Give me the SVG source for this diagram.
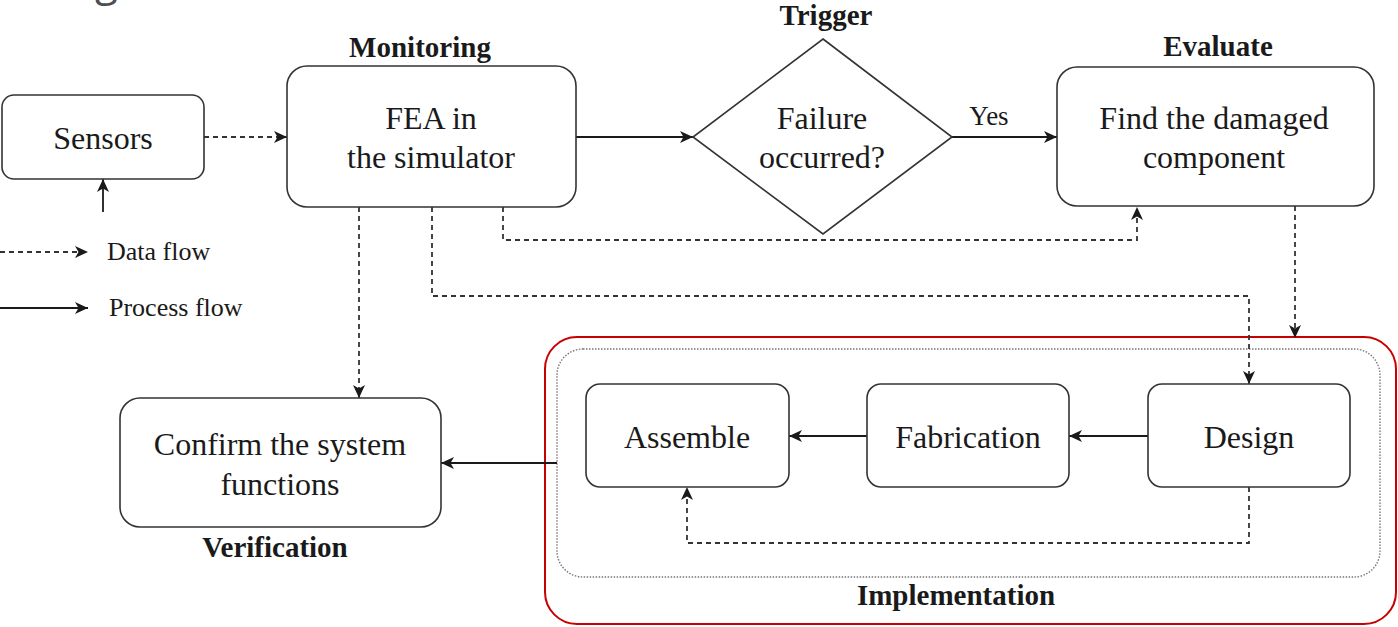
<svg xmlns="http://www.w3.org/2000/svg" width="1398" height="627" viewBox="0 0 1398 627">
<style>
.box{fill:#fff;stroke:#333;stroke-width:1.6}
.t{font-family:"Liberation Serif","Times New Roman",serif;font-size:32px;fill:#1a1a1a;text-anchor:middle}
.b{font-family:"Liberation Serif","Times New Roman",serif;font-size:29px;font-weight:bold;fill:#1a1a1a;text-anchor:middle}
.lg{font-family:"Liberation Serif","Times New Roman",serif;font-size:26px;fill:#1a1a1a}
.s{fill:none;stroke:#1a1a1a;stroke-width:1.8}
.d{fill:none;stroke:#333;stroke-width:1.8;stroke-dasharray:5 4}
</style>
<defs>
<marker id="a" markerUnits="userSpaceOnUse" markerWidth="16" markerHeight="14" refX="13" refY="6" orient="auto">
<path d="M0,0 L13,6 L0,12 L3.5,6 z" fill="#1a1a1a"/>
</marker>
</defs>
<text x="95" y="-4" style="font-family:'Open Sans',sans-serif;font-size:42px;fill:#4d4d4d">g</text>

<g id="implementation">
<rect x="545" y="337" width="851" height="287" rx="32" fill="none" stroke="#c80000" stroke-width="2"/>
<rect x="557" y="349" width="823" height="228" rx="26" fill="none" stroke="#777" stroke-width="1.4" stroke-dasharray="1.5 1.5"/>
<text class="b" x="956" y="605">Implementation</text>
</g>

<g id="connectors">
<line class="d" x1="204" y1="137" x2="287" y2="137" marker-end="url(#a)"/>
<line class="s" x1="103" y1="212" x2="103" y2="179" marker-end="url(#a)"/>
<line class="s" x1="576" y1="137" x2="693" y2="137" marker-end="url(#a)"/>
<line class="s" x1="952" y1="137" x2="1057" y2="137" marker-end="url(#a)"/>
<text x="989" y="125" class="t" style="font-size:27px">Yes</text>
<polyline class="d" points="503,207 503,240 1137,240 1137,207" marker-end="url(#a)"/>
<polyline class="d" points="432,207 432,296 1249,296 1249,384" marker-end="url(#a)"/>
<line class="d" x1="359" y1="207" x2="359" y2="398" marker-end="url(#a)"/>
<line class="d" x1="1295" y1="206" x2="1295" y2="338" marker-end="url(#a)"/>
<line class="s" x1="1148" y1="436" x2="1069" y2="436" marker-end="url(#a)"/>
<line class="s" x1="867" y1="436" x2="789" y2="436" marker-end="url(#a)"/>
<polyline class="d" points="1249,487 1249,543 687,543 687,487" marker-end="url(#a)"/>
<line class="s" x1="557" y1="463" x2="441" y2="463" stroke="#444" marker-end="url(#a)"/>
</g>

<g id="legend">
<line class="d" x1="0" y1="252" x2="88" y2="252" marker-end="url(#a)"/>
<text class="lg" x="107" y="260">Data flow</text>
<line class="s" x1="0" y1="308" x2="88" y2="308" marker-end="url(#a)"/>
<text class="lg" x="109" y="316">Process flow</text>
</g>

<g id="sensors">
<rect class="box" x="2" y="95" width="202" height="84" rx="12"/>
<text class="t" x="103" y="149">Sensors</text>
</g>

<g id="monitoring">
<text class="b" x="420" y="57">Monitoring</text>
<rect class="box" x="287" y="66" width="289" height="141" rx="20"/>
<text class="t" x="431" y="129">FEA in</text>
<text class="t" x="431" y="168">the simulator</text>
</g>

<g id="trigger">
<text class="b" x="826" y="25">Trigger</text>
<polygon class="box" points="823,39 952,137 823,234 693,137"/>
<text class="t" x="822" y="129">Failure</text>
<text class="t" x="822" y="168">occurred?</text>
</g>

<g id="evaluate">
<text class="b" x="1218" y="56">Evaluate</text>
<rect class="box" x="1057" y="67" width="317" height="139" rx="20"/>
<text class="t" x="1214" y="129">Find the damaged</text>
<text class="t" x="1214" y="168">component</text>
</g>

<g id="verification">
<rect class="box" x="120" y="398" width="321" height="129" rx="20"/>
<text class="t" x="280" y="455">Confirm the system</text>
<text class="t" x="280" y="495">functions</text>
<text class="b" x="275" y="557">Verification</text>
</g>

<g id="assemble">
<rect class="box" x="586" y="384" width="203" height="103" rx="14"/>
<text class="t" x="687" y="448">Assemble</text>
</g>

<g id="fabrication">
<rect class="box" x="867" y="384" width="202" height="103" rx="14"/>
<text class="t" x="968" y="448">Fabrication</text>
</g>

<g id="design">
<rect class="box" x="1148" y="384" width="202" height="103" rx="14"/>
<text class="t" x="1249" y="448">Design</text>
</g>
</svg>
